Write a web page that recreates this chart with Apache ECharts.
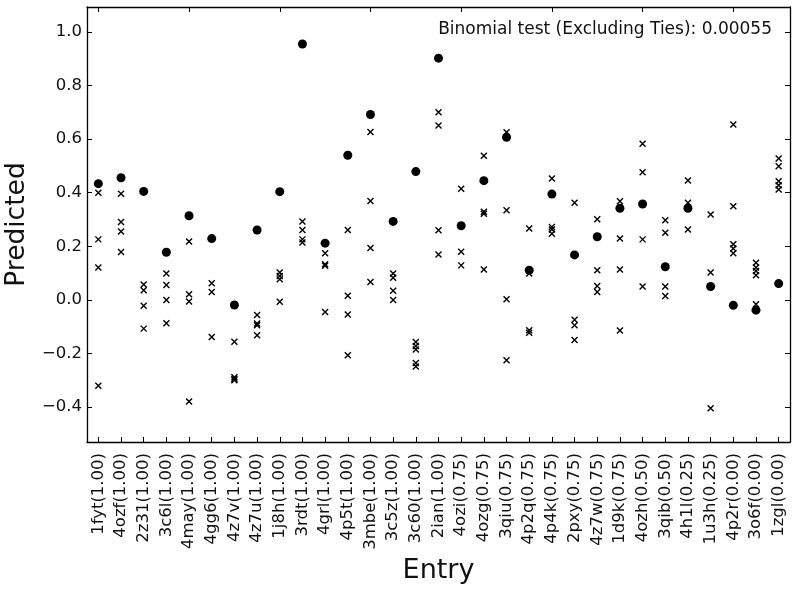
<!DOCTYPE html>
<html>
<head>
<meta charset="utf-8">
<script src="https://cdn.jsdelivr.net/npm/echarts@6.0.0/dist/echarts.min.js"></script>
<style>
html,body{margin:0;padding:0;background:#fff}
#chart{width:800px;height:593px}
</style>
</head>
<body>
<div id="chart"></div>
<script>
var entries = ['1fyt(1.00)','4ozf(1.00)','2z31(1.00)','3c6l(1.00)','4may(1.00)','4gg6(1.00)','4z7v(1.00)','4z7u(1.00)',
    '1j8h(1.00)','3rdt(1.00)','4grl(1.00)','4p5t(1.00)','3mbe(1.00)','3c5z(1.00)','3c60(1.00)','2ian(1.00)',
    '4ozi(0.75)','4ozg(0.75)','3qiu(0.75)','4p2q(0.75)','4p4k(0.75)','2pxy(0.75)','4z7w(0.75)','1d9k(0.75)',
    '4ozh(0.50)','3qib(0.50)','4h1l(0.25)','1u3h(0.25)','4p2r(0.00)','3o6f(0.00)','1zgl(0.00)'];

// filled dots
var circleValues = [0.434,0.456,0.405,0.178,0.314,0.229,-0.019,0.261,
    0.404,0.955,0.212,0.540,0.692,0.293,0.479,0.902,
    0.277,0.445,0.607,0.111,0.395,0.168,0.236,0.342,
    0.358,0.124,0.342,0.050,-0.020,-0.038,0.061];

// x markers, one list per entry
var crossValues = [
    [0.400,0.226,0.121,-0.320],
    [0.396,0.291,0.255,0.179],
    [0.058,0.036,-0.022,-0.107],
    [0.099,0.056,0.000,-0.087],
    [0.218,0.021,-0.006,-0.379],
    [0.062,0.030,-0.138],
    [-0.156,-0.288,-0.295,-0.300],
    [-0.056,-0.088,-0.094,-0.132],
    [0.102,0.089,0.077,-0.007],
    [0.293,0.261,0.226,0.214],
    [0.174,0.133,0.128,-0.045],
    [0.261,0.016,-0.054,-0.206],
    [0.627,0.369,0.194,0.067],
    [0.099,0.083,0.034,0.000],
    [-0.157,-0.172,-0.185,-0.235,-0.248],
    [0.700,0.651,0.260,0.170],
    [0.415,0.180,0.129],
    [0.538,0.329,0.322,0.114],
    [0.626,0.335,0.003,-0.225],
    [0.267,0.099,-0.113,-0.122],
    [0.453,0.272,0.263,0.247],
    [0.363,-0.074,-0.094,-0.149],
    [0.301,0.111,0.052,0.030],
    [0.368,0.229,0.114,-0.114],
    [0.583,0.476,0.226,0.050],
    [0.297,0.251,0.050,0.015],
    [0.446,0.363,0.263],
    [0.319,0.102,-0.404],
    [0.655,0.350,0.208,0.192,0.174],
    [0.139,0.121,0.108,0.092,-0.016],
    [0.528,0.499,0.443,0.428,0.412]
];

var yTicks = [-0.4,-0.2,0.0,0.2,0.4,0.6,0.8,1.0];
var binomialText = 'Binomial test (Excluding Ties): 0.00055';

var font = 'DejaVu Sans';

var dotData = circleValues.map(function(v,i){ return [i,v]; });
var crossData = [];
crossValues.forEach(function(list,i){
    list.forEach(function(v){ crossData.push([i,v]); });
});

var frameLine = {show:true, onZero:false, lineStyle:{color:'#000', width:1.3}};
var tickStyle = {show:true, inside:true, length:5, lineStyle:{color:'#000', width:1}};

var myChart = echarts.init(document.getElementById('chart'));
myChart.setOption({
    animation:false,
    backgroundColor:'#fff',
    grid:{left:87, right:10, top:7, bottom:151, outerBoundsMode:'none', containLabel:false},
    xAxis:[{
        type:'category',
        data:entries,
        position:'bottom',
        axisLine:frameLine,
        axisTick:{show:true, inside:true, length:5, alignWithLabel:true, lineStyle:{color:'#000', width:1}},
        axisLabel:{rotate:90, interval:0, margin:11, fontFamily:font, fontSize:16.5, color:'#111'},
        splitLine:{show:false},
        name:'Entry',
        nameLocation:'middle',
        nameGap:113,
        nameTextStyle:{fontFamily:font, fontSize:27, color:'#111'}
    },{
        type:'category',
        data:entries,
        position:'top',
        axisLine:frameLine,
        axisTick:{show:true, inside:true, length:5, alignWithLabel:true, lineStyle:{color:'#000', width:1}},
        axisLabel:{show:false},
        splitLine:{show:false}
    }],
    yAxis:[{
        type:'value',
        min:-0.53,
        max:1.093,
        position:'left',
        axisLine:frameLine,
        axisTick:Object.assign({customValues:yTicks}, tickStyle),
        axisLabel:{
            customValues:yTicks,
            margin:5,
            fontFamily:font,
            fontSize:16.5,
            color:'#111',
            formatter:function(v){ return v.toFixed(1).replace('-','\u2212'); }
        },
        splitLine:{show:false},
        name:'Predicted',
        nameLocation:'middle',
        nameGap:56,
        nameTextStyle:{fontFamily:font, fontSize:26.5, color:'#111'}
    },{
        type:'value',
        min:-0.53,
        max:1.093,
        position:'right',
        axisLine:frameLine,
        axisTick:Object.assign({customValues:yTicks}, tickStyle),
        axisLabel:{show:false},
        splitLine:{show:false}
    }],
    graphic:[{
        type:'text',
        right:28,
        top:21,
        style:{text:binomialText, fontFamily:font, fontSize:17, fill:'#111'}
    }],
    series:[{
        type:'scatter',
        data:dotData,
        symbol:'circle',
        symbolSize:9,
        itemStyle:{color:'#000', opacity:1},
        z:2
    },{
        type:'scatter',
        data:crossData,
        symbol:'path://M0,0L10,10M10,0L0,10',
        symbolSize:6,
        itemStyle:{color:'none', borderColor:'#000', borderWidth:1.4, opacity:1},
        z:3
    }]
});
</script>
</body>
</html>
